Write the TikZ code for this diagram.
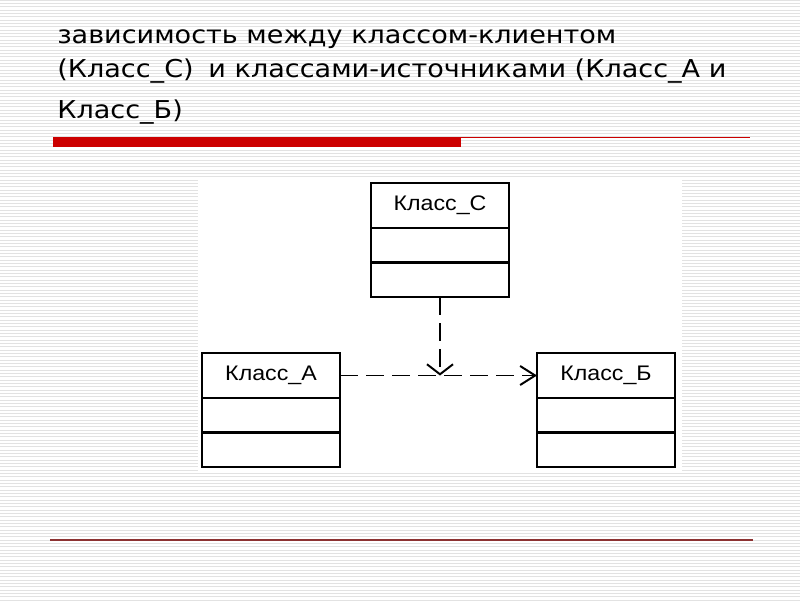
\documentclass[tikz,border=0pt]{standalone}
\usepackage{fontspec}
\setmainfont{DejaVu Sans}
\newfontfamily\titlefont[FakeStretch=1.1]{DejaVu Sans}
\newfontfamily\umlfont[FakeStretch=1.1]{Liberation Sans}
\usetikzlibrary{arrows.meta, positioning}

\definecolor{stripe}{RGB}{226,226,226}
\definecolor{slidered}{RGB}{204,0,0}
\definecolor{footred}{RGB}{140,50,50}

\begin{document}
\begin{tikzpicture}[x=0.025cm, y=-0.025cm,
    classhead/.style={draw, line width=1.5pt, outer sep=0pt, inner sep=0pt, minimum width=3.45cm, minimum height=1.125cm, font=\umlfont\fontsize{15}{18}\selectfont},
    classpart/.style={draw, line width=1.5pt, outer sep=0pt, inner sep=0pt, minimum width=3.45cm, minimum height=0.8625cm},
    depend/.style={line width=1.4pt, dash pattern=on 4.5mm off 2mm},
    titleline/.style={anchor=base west, inner sep=0pt, font=\titlefont\fontsize{17.5}{21}\selectfont},
]
  % slide background
  \useasboundingbox (0,0) rectangle (800,600);
  \fill[white] (0,0) rectangle (800,600);
  \foreach \i in {0,...,180}
    \draw[stripe, line width=0.6pt] (0,\i*3.333) -- (800,\i*3.333);

  % title
  \node[titleline] (title1) at (57,43) {зависимость между классом-клиентом};
  \node[titleline] (title2) at (57,77) {(Класс\_С)\hskip0.6em и классами-источниками (Класс\_А и};
  \node[titleline] (title3) at (57,118) {Класс\_Б)};

  % red rules
  \fill[slidered] (53,137) rectangle (461,147);
  \draw[slidered, line width=0.9pt] (461,137.5) -- (750,137.5);
  \draw[footred, line width=1pt] (50,540) -- (753,540);

  % diagram panel
  \fill[white] (198,178) rectangle (682,471);

  % classes
  \node[classhead] (clsC) at (440,205.5) {Класс\_С};
  \node[classpart, below=0pt of clsC] (clsC-attr) {};
  \node[classpart, below=0pt of clsC-attr] (clsC-ops) {};

  \node[classhead] (clsA) at (271,375.5) {Класс\_А};
  \node[classpart, below=0pt of clsA] (clsA-attr) {};
  \node[classpart, below=0pt of clsA-attr] (clsA-ops) {};

  \node[classhead] (clsB) at (606,375.5) {Класс\_Б};
  \node[classpart, below=0pt of clsB] (clsB-attr) {};
  \node[classpart, below=0pt of clsB-attr] (clsB-ops) {};

  % dependencies
  \coordinate (meet) at (clsC-ops.south |- clsA.east);
  \draw[depend, -{Straight Barb[length=2.5mm, width=6.5mm]}] (clsC-ops.south) -- (meet);
  \draw[depend, -{Straight Barb[length=3.75mm, width=4.75mm]}] (clsA.east) -- (clsB.west);
\end{tikzpicture}
\end{document}
